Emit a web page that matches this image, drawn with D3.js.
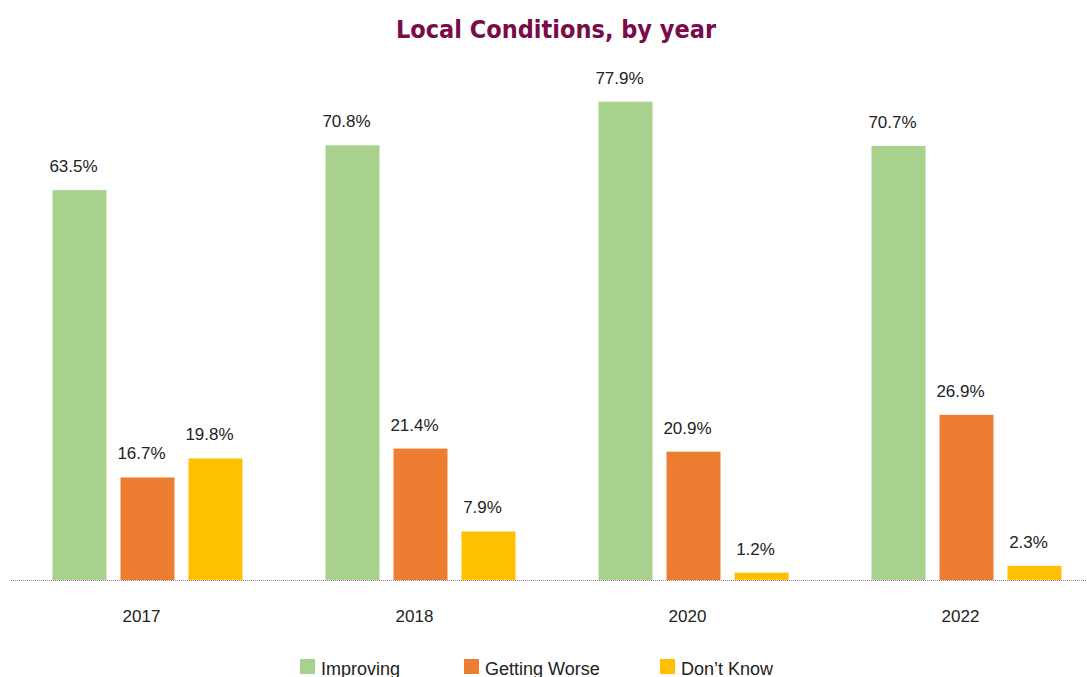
<!DOCTYPE html>
<html><head><meta charset="utf-8">
<script src="https://cdn.jsdelivr.net/npm/d3@7"></script>
<style>body{margin:0;background:#fff}svg{display:block}</style>
</head><body>
<svg id="c" width="1087" height="677"></svg>
<script>
const years = ["2017","2018","2020","2022"];
const seriesNames = ["Improving","Getting Worse","Don\u2019t Know"];
const improving = [63.5,70.8,77.9,70.7];
const gettingWorse = [16.7,21.4,20.9,26.9];
const dontKnow = [19.8,7.9,1.2,2.3];
const colors = ["#a9d18e","#ed7d31","#ffc000"];

const series = [improving, gettingWorse, dontKnow];
const svg = d3.select("#c");
const baseY = 580;
const x0 = d3.scaleBand().domain(years).range([11,1103]).paddingInner(0).paddingOuter(0);
const x1 = d3.scaleBand().domain(seriesNames).range([41.5, 41.5+190]).paddingInner(14/68).paddingOuter(0);
const y = d3.scaleLinear().domain([0,100]).range([baseY, baseY-614]);

svg.append("text").attr("x",556).attr("y",38).attr("text-anchor","middle")
  .attr("font-family","DejaVu Sans Condensed, DejaVu Sans").attr("font-weight","bold")
  .attr("font-size",25).attr("fill","#7a0a48").text("Local Conditions, by year");

const data = [];
years.forEach((yr,i)=>seriesNames.forEach((s,j)=>data.push({yr,s,j,v:series[j][i]})));

const g = svg.append("g");
g.selectAll("rect").data(data).join("rect")
  .attr("x",d=>x0(d.yr)+x1(d.s)).attr("width",x1.bandwidth())
  .attr("y",d=>y(d.v)).attr("height",d=>baseY-y(d.v))
  .attr("fill",d=>colors[d.j]);

g.selectAll("text.val").data(data).join("text").attr("class","val")
  .attr("x",d=>x0(d.yr)+x1(d.s)+x1.bandwidth()/2-6).attr("y",d=>y(d.v)-18)
  .attr("text-anchor","middle").attr("font-family","Liberation Sans, Arial")
  .attr("font-size",17).attr("fill","#222").text(d=>d.v.toFixed(1)+"%");

svg.append("line").attr("x1",11).attr("x2",1087).attr("y1",baseY+0.5).attr("y2",baseY+0.5)
  .attr("stroke","#b2678f").attr("stroke-width",1).attr("stroke-dasharray","1,1");

const xAxis = d3.axisBottom(x0).tickSize(0).tickPadding(0);
const ax = svg.append("g").attr("transform",`translate(-6,${baseY})`).call(xAxis);
ax.select(".domain").remove();
ax.selectAll("text").attr("dy",null).attr("y",42).attr("font-family","Liberation Sans, Arial")
  .attr("font-size",17).attr("fill","#222");

const legX = [300,464,660];
const leg = svg.selectAll("g.leg").data(seriesNames).join("g").attr("class","leg")
  .attr("transform",(d,i)=>`translate(${legX[i]},659)`);
leg.append("rect").attr("width",15).attr("height",15).attr("fill",(d,i)=>colors[i]);
leg.append("text").attr("x",21).attr("y",16).attr("font-family","Liberation Sans, Arial")
  .attr("font-size",18).attr("fill","#222").text(d=>d);
</script>
</body></html>
